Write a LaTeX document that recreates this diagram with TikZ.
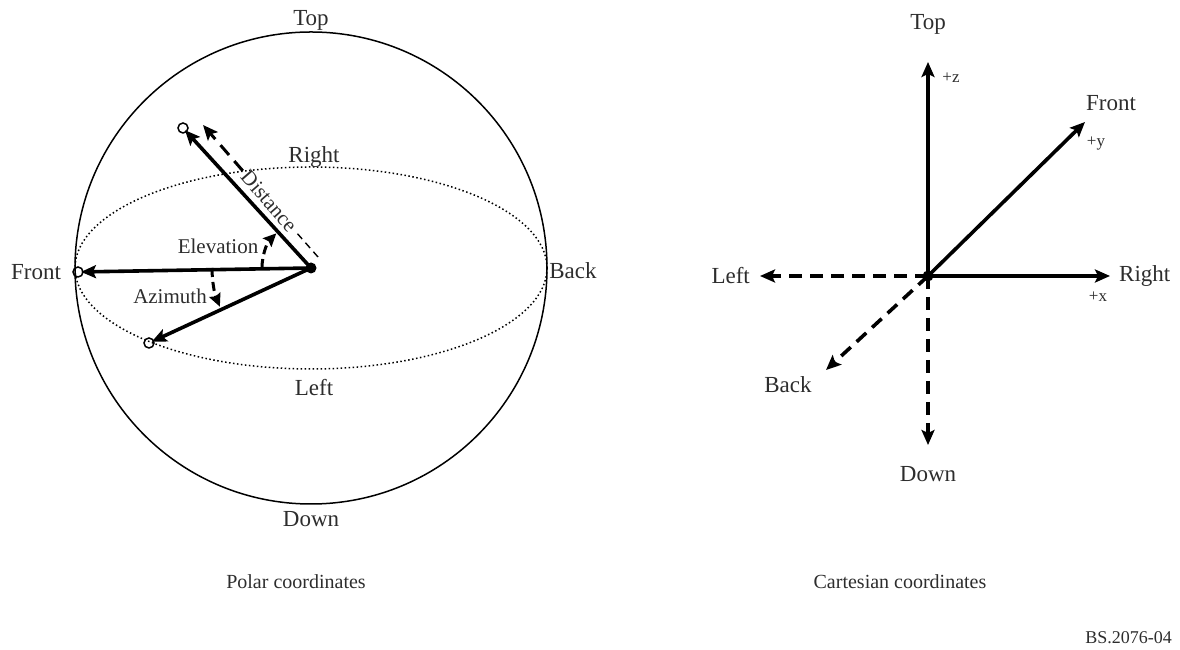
\documentclass[tikz,border=0pt]{standalone}
\usepackage{fontspec}
\setmainfont{Liberation Serif}
\usetikzlibrary{positioning,arrows.meta}
\definecolor{lblGray}{RGB}{45,45,45}

\begin{document}
\begin{tikzpicture}[x=1pt,y=1pt,
  vec/.style={-{Stealth[length=15pt,width=13pt,inset=3pt]}, line width=3.6pt},
  dashvec/.style={vec, dash pattern=on 13pt off 8pt},
  anglearc/.style={-{Stealth[length=13pt,width=12pt,inset=2pt]}, line width=3pt, dash pattern=on 9pt off 5pt},
  lbl/.style={font=\fontsize{23}{26}\selectfont, text=lblGray, inner sep=0pt},
  anglbl/.style={font=\fontsize{21}{24}\selectfont, text=lblGray, inner sep=0pt},
  axlbl/.style={font=\fontsize{17}{19}\selectfont, text=lblGray, inner sep=0pt},
  caption/.style={font=\fontsize{20}{23}\selectfont, text=lblGray, inner sep=0pt}]
  \useasboundingbox (0,0) rectangle (1180,650);

  % Polar coordinates
  \coordinate (O) at (311,382);
  \coordinate (F) at (78,378);
  \coordinate (E) at (183,522);
  \coordinate (A) at (149,307);
  \coordinate (dStart) at (318,393);
  \coordinate (dEnd) at (203,525);

  % Sphere and horizontal plane
  \draw[line width=1.5pt] (O) circle (236);
  \draw[line width=1.5pt, dash pattern=on 1.5pt off 2.5pt] (O) ellipse [x radius=236, y radius=101];

  % Vectors to the points
  \draw[vec, shorten >=3pt] (O) -- (F);
  \draw[vec, shorten >=3pt] (O) -- (E);
  \draw[vec, shorten >=3pt] (O) -- (A);

  % Distance (broken by its label)
  \node[anglbl, rotate=-49] (dist) at (269,449) {Distance};
  \draw[dashvec, line width=3pt, shorten <=3pt] (dist.west) -- (dEnd);
  \draw[line width=1.4pt, dash pattern=on 7pt off 5pt, shorten >=3pt] (dStart) -- (dist.east);

  % Angles
  \draw[anglearc] (O) ++(180:49) arc[start angle=180, end angle=135, radius=49];
  \draw[anglearc] (O) ++(180:99) arc[start angle=180, end angle=203, radius=99];

  % Points
  \foreach \pt in {F,E,A} {
    \draw[line width=1.5pt] (\pt) circle (5);
  }
  \fill (O) circle (5.5);

  % Labels
  \node[lbl] (pTop) at (311,630) {Top};
  \node[lbl] (pDown) at (311,131) {Down};
  \node[lbl] (pFront) at (36,378) {Front};
  \node[lbl] (pBack) at (573,379) {Back};
  \node[lbl] (pRight) at (314,493) {Right};
  \node[lbl] (pLeft) at (314,262) {Left};
  \node[anglbl] (elev) at (218,404) {Elevation};
  \node[anglbl] (azim) at (170,354) {Azimuth};
  \node[caption] (polar) at (296,68) {Polar coordinates};

  % Cartesian coordinates
  \coordinate (C) at (928,374);
  \coordinate (zPos) at (928,588);
  \coordinate (yPos) at (1085,528);
  \coordinate (xPos) at (1110,374);
  \coordinate (xNeg) at (760,374);
  \coordinate (yNeg) at (826,280);
  \coordinate (zNeg) at (928,205);

  \draw[dashvec] (C) -- (xNeg);
  \draw[dashvec] (C) -- (yNeg);
  \draw[dashvec] (C) -- (zNeg);
  \draw[vec] (C) -- (zPos);
  \draw[vec] (C) -- (yPos);
  \draw[vec] (C) -- (xPos);
  \fill (C) circle (5.5);

  \node[lbl] (cTop) at (928,626) {Top};
  \node[lbl] (cFront) at (1111,547) {Front};
  \node[lbl, anchor=west] (cRight) at (1119,374) {Right};
  \node[lbl, anchor=east] (cLeft) at (750,374) {Left};
  \node[lbl] (cBack) at (788,265) {Back};
  \node[lbl] (cDown) at (928,176) {Down};
  \node[axlbl] (zLbl) at (951,572) {+z};
  \node[axlbl] (yLbl) at (1096,506) {+y};
  \node[axlbl] (xLbl) at (1098,353) {+x};
  \node[caption] (cart) at (900,68) {Cartesian coordinates};

  \node[font=\fontsize{18}{20}\selectfont, text=lblGray, inner sep=0pt, anchor=east] (fig) at (1172,12) {BS.2076-04};
\end{tikzpicture}
\end{document}
